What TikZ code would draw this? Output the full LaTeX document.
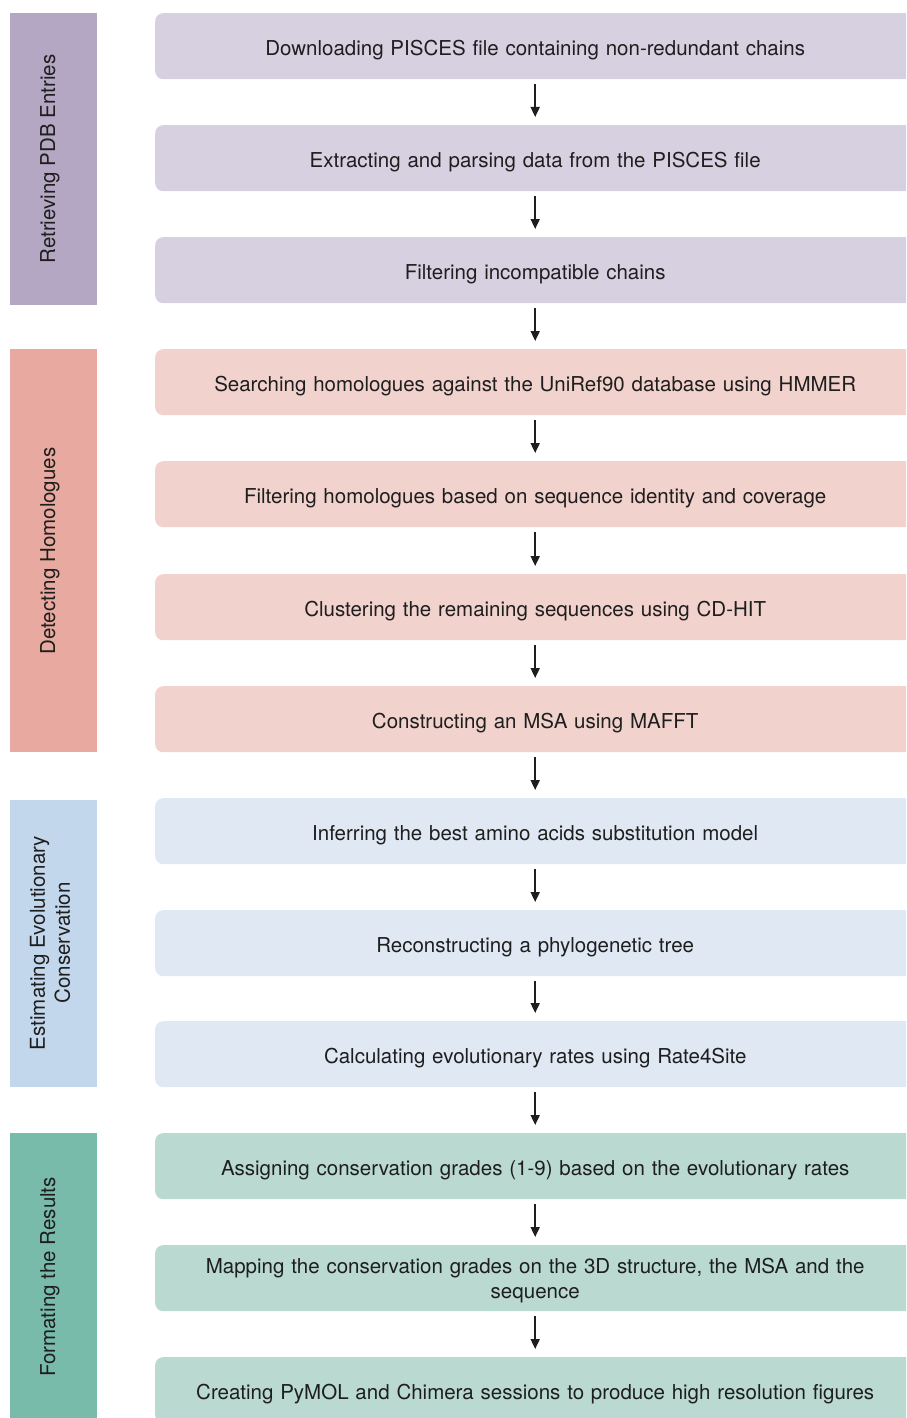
\documentclass[tikz,border=0pt]{standalone}
\usepackage{fontspec}
\setmainfont{TeX Gyre Heros}
\usetikzlibrary{arrows.meta}
\definecolor{barA}{HTML}{B4A7C4}
\definecolor{boxA}{HTML}{D6D0E1}
\definecolor{barB}{HTML}{E7A9A0}
\definecolor{boxB}{HTML}{F1D2CD}
\definecolor{barC}{HTML}{C3D7EC}
\definecolor{boxC}{HTML}{DFE8F3}
\definecolor{barD}{HTML}{79BBAA}
\definecolor{boxD}{HTML}{BAD9D0}
\definecolor{txt}{HTML}{1E1E1E}
\tikzset{
  stepbox/.style={anchor=north west, rounded corners=8pt, minimum width=760pt, minimum height=66pt,
    inner sep=0pt, text width=720pt, text height=19pt, text depth=0pt, align=center, font=\fontsize{20.5}{25}\selectfont, text=txt},
  barlabel/.style={rotate=90, font=\fontsize{20.5}{25}\selectfont, text=txt, align=center},
  arr/.style={-{Triangle[width=9pt,length=10pt]}, line width=1.8pt, draw=txt, shorten <=5pt, shorten >=8pt},
}
\begin{document}
\begin{tikzpicture}[x=1pt,y=-1pt]
\useasboundingbox (0,0) rectangle (906,1418);
\clip (0,0) rectangle (906,1418);
% side bars
\fill[barA] (10,13) rectangle (97,305);
\fill[barB] (10,349) rectangle (97,752);
\fill[barC] (10,800) rectangle (97,1087);
\fill[barD] (10,1133) rectangle (97,1430);
\node[barlabel] (gA) at (50,159) {Retrieving PDB Entries};
\node[barlabel] (gB) at (50,551) {Detecting Homologues};
\node[barlabel] (gC) at (50,943) {Estimating Evolutionary\\Conservation};
\node[barlabel] (gD) at (50,1277) {Formating the Results};
% step boxes
\node[stepbox, fill=boxA] (b1) at (155,13) {Downloading PISCES file containing non-redundant chains};
\node[stepbox, fill=boxA] (b2) at (155,125) {Extracting and parsing data from the PISCES file};
\node[stepbox, fill=boxA] (b3) at (155,237) {Filtering incompatible chains};
\node[stepbox, fill=boxB] (b4) at (155,349) {Searching homologues against the UniRef90 database using HMMER};
\node[stepbox, fill=boxB] (b5) at (155,461) {Filtering homologues based on sequence identity and coverage};
\node[stepbox, fill=boxB] (b6) at (155,574) {Clustering the remaining sequences using CD-HIT};
\node[stepbox, fill=boxB] (b7) at (155,686) {Constructing an MSA using MAFFT};
\node[stepbox, fill=boxC] (b8) at (155,798) {Inferring the best amino acids substitution model};
\node[stepbox, fill=boxC] (b9) at (155,910) {Reconstructing a phylogenetic tree};
\node[stepbox, fill=boxC] (b10) at (155,1021) {Calculating evolutionary rates using Rate4Site};
\node[stepbox, fill=boxD] (b11) at (155,1133) {Assigning conservation grades (1-9) based on the evolutionary rates};
\node[stepbox, fill=boxD, text height=20pt, text depth=29pt] (b12) at (155,1245) {Mapping the conservation grades on the 3D structure, the MSA and the\\sequence};
\node[stepbox, fill=boxD] (b13) at (155,1357) {Creating PyMOL and Chimera sessions to produce high resolution figures};
% arrows
\foreach \a/\b in {b1/b2,b2/b3,b3/b4,b4/b5,b5/b6,b6/b7,b7/b8,b8/b9,b9/b10,b10/b11,b11/b12,b12/b13}
  \draw[arr] (\a.south) -- (\b.north);
\end{tikzpicture}
\end{document}
